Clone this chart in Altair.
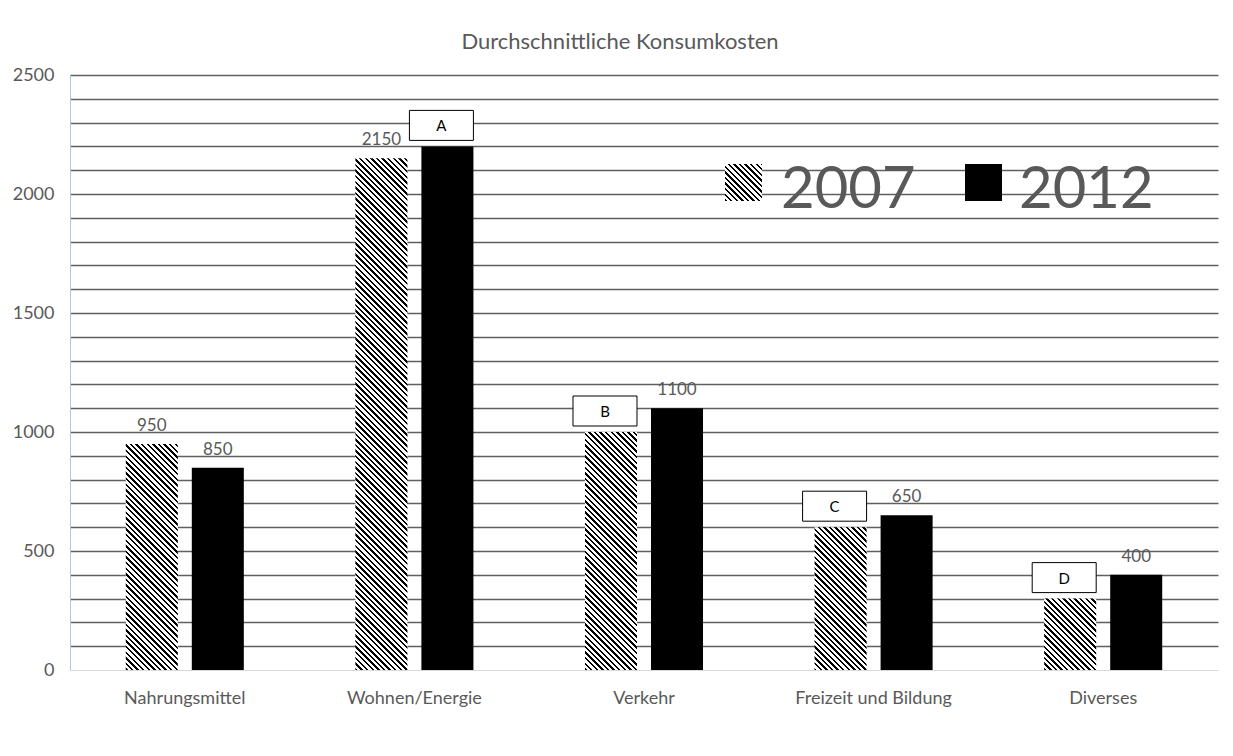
import altair as alt
import pandas as pd

# ---- data ----
kategorien = ["Nahrungsmittel", "Wohnen/Energie", "Verkehr", "Freizeit und Bildung", "Diverses"]
jahre = ["2007", "2012"]
werte_2007 = [950, 2150, 1000, 600, 300]
werte_2012 = [850, 2200, 1100, 650, 400]
# value labels shown above the bars ("" = hidden behind a letter box)
beschriftung_2007 = ["950", "2150", "", "", ""]
beschriftung_2012 = ["850", "", "1100", "650", "400"]
# letter boxes
box_kategorie = ["Wohnen/Energie", "Verkehr", "Freizeit und Bildung", "Diverses"]
box_jahr = ["2012", "2007", "2007", "2007"]
box_buchstabe = ["A", "B", "C", "D"]
titel = "Durchschnittliche Konsumkosten"

rows = []
for k, w7, w12, b7, b12 in zip(kategorien, werte_2007, werte_2012, beschriftung_2007, beschriftung_2012):
    rows.append({"Kategorie": k, "Jahr": "2007", "Wert": w7, "Label": b7})
    rows.append({"Kategorie": k, "Jahr": "2012", "Wert": w12, "Label": b12})
df = pd.DataFrame(rows)

boxes = pd.DataFrame({"Kategorie": box_kategorie, "Jahr": box_jahr, "Buchstabe": box_buchstabe})
boxes = boxes.merge(df[["Kategorie", "Jahr", "Wert"]], on=["Kategorie", "Jahr"])

# ---- layout ----
PLOT_W, PLOT_H = 1148, 595
Y_MAX = 2500
FONT = "Lato"
GREY = "#595959"

x_scale = alt.Scale(domain=kategorien, paddingInner=0, paddingOuter=0)
xo_scale = alt.Scale(domain=jahre, paddingInner=0.212, paddingOuter=0.845)
BAR_W = (PLOT_W / len(kategorien)) / (2 - 0.212 + 2 * 0.845) * (1 - 0.212)


def hatch(W, H, period=5.6, black=2.4):
    """diagonal '\\' hatching as a hard-stop linear gradient on the bbox"""
    L = W + H
    a = L / (W * W + H * H)
    stops = []
    k = 0
    while k * period < L:
        s = k * period / L
        e = min((k * period + black) / L, 1.0)
        n = min((k + 1) * period / L, 1.0)
        stops += [
            alt.GradientStop(offset=s, color="#000000"),
            alt.GradientStop(offset=e, color="#000000"),
            alt.GradientStop(offset=e, color="#ffffff"),
            alt.GradientStop(offset=n, color="#ffffff"),
        ]
        k += 1
    return alt.LinearGradient(gradient="linear", x1=0, y1=1, x2=W * a, y2=1 - H * a, stops=stops)


base = alt.Chart(df).encode(
    x=alt.X(
        "Kategorie:N",
        sort=kategorien,
        scale=x_scale,
        axis=alt.Axis(
            title=None,
            labelAngle=0,
            ticks=False,
            domainColor="#d9d9d9",
            domainWidth=1,
            labelColor=GREY,
            labelFont=FONT,
            labelFontSize=18,
            labelPadding=19,
        ),
    ),
    xOffset=alt.XOffset("Jahr:N", scale=xo_scale),
    y=alt.Y(
        "Wert:Q",
        scale=alt.Scale(domain=[0, Y_MAX], nice=False),
        axis=alt.Axis(
            title=None,
            values=list(range(0, Y_MAX + 1, 100)),
            tickCount=40,
            labelExpr="datum.value % 500 === 0 ? datum.label : ''",
            labelOverlap=False,
            format="d",
            ticks=False,
            grid=True,
            gridColor={"condition": {"test": "datum.value === 0", "value": "transparent"}, "value": "#5f5f5f"},
            gridWidth=1.4,
            domainColor="#a9c8ea",
            domainWidth=1,
            labelColor=GREY,
            labelFont=FONT,
            labelFontSize=18,
            labelPadding=16,
        ),
    ),
)

layers = []
bars_2012 = base.transform_filter(alt.datum.Jahr == "2012").mark_bar(color="#000000")
layers.append(bars_2012)

for k, w in zip(kategorien, werte_2007):
    H = w / Y_MAX * PLOT_H
    layer = base.transform_filter(
        (alt.datum.Jahr == "2007") & (alt.datum.Kategorie == k)
    ).mark_bar(fill=hatch(BAR_W, H), strokeWidth=0)
    layers.append(layer)

value_text = base.transform_filter(alt.datum.Label != "").mark_text(
    baseline="alphabetic", dy=-13, font=FONT, fontSize=17, color=GREY
).encode(text="Label:N")
layers.append(value_text)

box_base = alt.Chart(boxes).encode(
    x=alt.X("Kategorie:N", sort=kategorien, scale=x_scale),
    xOffset=alt.XOffset("Jahr:N", scale=xo_scale),
    y=alt.Y("Wert:Q"),
)
# 64 x 30 px box (unit = 32 px), shifted 6 px to the left of the bar centre
box_rect = box_base.mark_point(
    shape="M-1.1875,-0.46875H0.8125V0.46875H-1.1875Z",
    size=64 * 64,
    filled=True,
    fill="#ffffff",
    stroke="#000000",
    strokeWidth=1,
    opacity=1,
    yOffset=-21,
)
box_text = box_base.mark_text(
    baseline="middle", dy=-20, dx=-6, font=FONT, fontSize=15, color="#000000"
).encode(text="Buchstabe:N")
layers += [box_rect, box_text]

# ---- legend (drawn manually so the 2007 symbol can be hatched) ----
leg = alt.Chart(pd.DataFrame({"Jahr": jahre}))
leg_2007 = leg.transform_filter(alt.datum.Jahr == "2007").mark_rect(fill=hatch(37, 37)).encode(
    x=alt.value(655), x2=alt.value(692), y=alt.value(89), y2=alt.value(126)
)
leg_2012 = leg.transform_filter(alt.datum.Jahr == "2012").mark_rect(fill="#000000").encode(
    x=alt.value(895), x2=alt.value(932), y=alt.value(89), y2=alt.value(126)
)
leg_t2007 = leg.transform_filter(alt.datum.Jahr == "2007").mark_text(
    align="left", baseline="middle", font=FONT, fontSize=58, color=GREY
).encode(x=alt.value(711), y=alt.value(116), text="Jahr:N")
leg_t2012 = leg.transform_filter(alt.datum.Jahr == "2012").mark_text(
    align="left", baseline="middle", font=FONT, fontSize=58, color=GREY
).encode(x=alt.value(949), y=alt.value(116), text="Jahr:N")
layers += [leg_2007, leg_2012, leg_t2007, leg_t2012]

chart = alt.layer(*layers).properties(
    width=PLOT_W,
    height=PLOT_H,
    background="#ffffff",
    autosize=alt.AutoSizeParams(type="none"),
    padding={"left": 62, "top": 67, "right": 5, "bottom": 70},
    title=alt.TitleParams(
        titel, font=FONT, fontSize=22, fontWeight="normal", color=GREY, anchor="middle", dx=-24, offset=12
    ),
).configure_view(stroke=None)

chart.save("out.html", embed_options={"renderer": "svg", "actions": False})
